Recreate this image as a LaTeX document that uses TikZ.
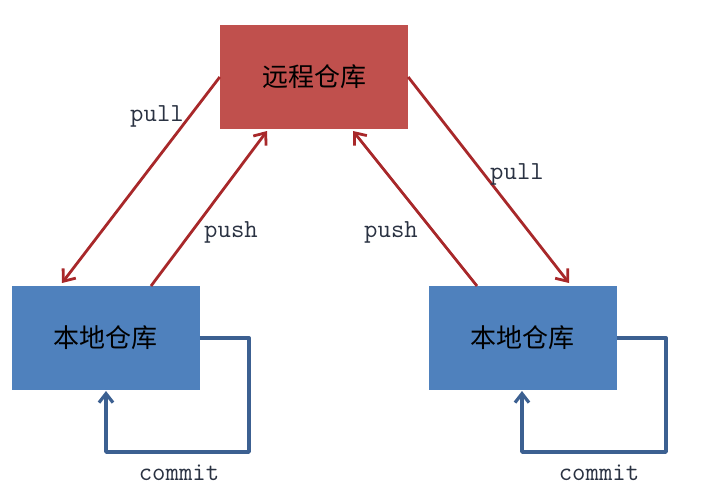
\documentclass[tikz,border=0pt]{standalone}
\usepackage{fontspec}
\newfontfamily\cjkfont{Noto Sans CJK SC}
\usetikzlibrary{arrows.meta,calc}
\definecolor{remotered}{HTML}{C0504D}
\definecolor{localblue}{HTML}{4F81BD}
\definecolor{arrowred}{HTML}{A8282A}
\definecolor{loopblue}{HTML}{3C6091}
\definecolor{labelcol}{HTML}{2A3242}
\tikzset{
  repo/.style={rectangle, inner sep=0pt, minimum width=188pt, minimum height=104pt,
    font=\cjkfont\fontsize{26}{30}\selectfont, text=black},
  remotebox/.style={repo, fill=remotered},
  localbox/.style={repo, fill=localblue},
  flow/.style={draw=arrowred, line width=2.8pt, -{Straight Barb[length=10pt,width=16pt,line width=2.8pt]}},
  loop/.style={draw=loopblue, line width=3.4pt, line join=round, -{Straight Barb[length=9pt,width=14pt,line width=3.2pt]}},
  lbl/.style={font=\ttfamily\fontsize{26}{30}\selectfont, text=labelcol, inner sep=0pt}
}
\begin{document}
\begin{tikzpicture}[x=1pt,y=-1pt]
\useasboundingbox (0,0) rectangle (726,491);
\node[remotebox] (remote) at (314,77) {远程仓库};
\node[localbox] (local1) at (105.5,338) {本地仓库};
\node[localbox] (local2) at (522.5,338) {本地仓库};
% pull / push arrows
\coordinate (pullLend) at (62,283);
\coordinate (pushLstart) at (151,286);
\coordinate (pushLend) at (267,131);
\coordinate (pushRstart) at (477,286);
\coordinate (pushRend) at (353,131);
\coordinate (pullRend) at (569,283);
\draw[flow] (remote.west) -- (pullLend);
\draw[flow] (pushLstart) -- (pushLend);
\draw[flow] (pushRstart) -- (pushRend);
\draw[flow] (remote.east) -- (pullRend);
% commit loops
\coordinate (l1a) at (249,338);
\coordinate (l1b) at (249,452);
\coordinate (l1c) at (106,452);
\coordinate (l1d) at (106,391);
\draw[loop] (local1.east) -- (l1a) -- (l1b) -- (l1c) -- (l1d);
\coordinate (l2a) at (666,338);
\coordinate (l2b) at (666,452);
\coordinate (l2c) at (522,452);
\coordinate (l2d) at (522,391);
\draw[loop] (local2.east) -- (l2a) -- (l2b) -- (l2c) -- (l2d);
% labels
\node[lbl] (tpullL) at (157,116) {pull};
\node[lbl] (tpushL) at (231,232) {push};
\node[lbl] (tpushR) at (391,232) {push};
\node[lbl] (tpullR) at (517,174) {pull};
\node[lbl] (tcommitL) at (179,473) {commit};
\node[lbl] (tcommitR) at (599,473) {commit};
\end{tikzpicture}
\end{document}
